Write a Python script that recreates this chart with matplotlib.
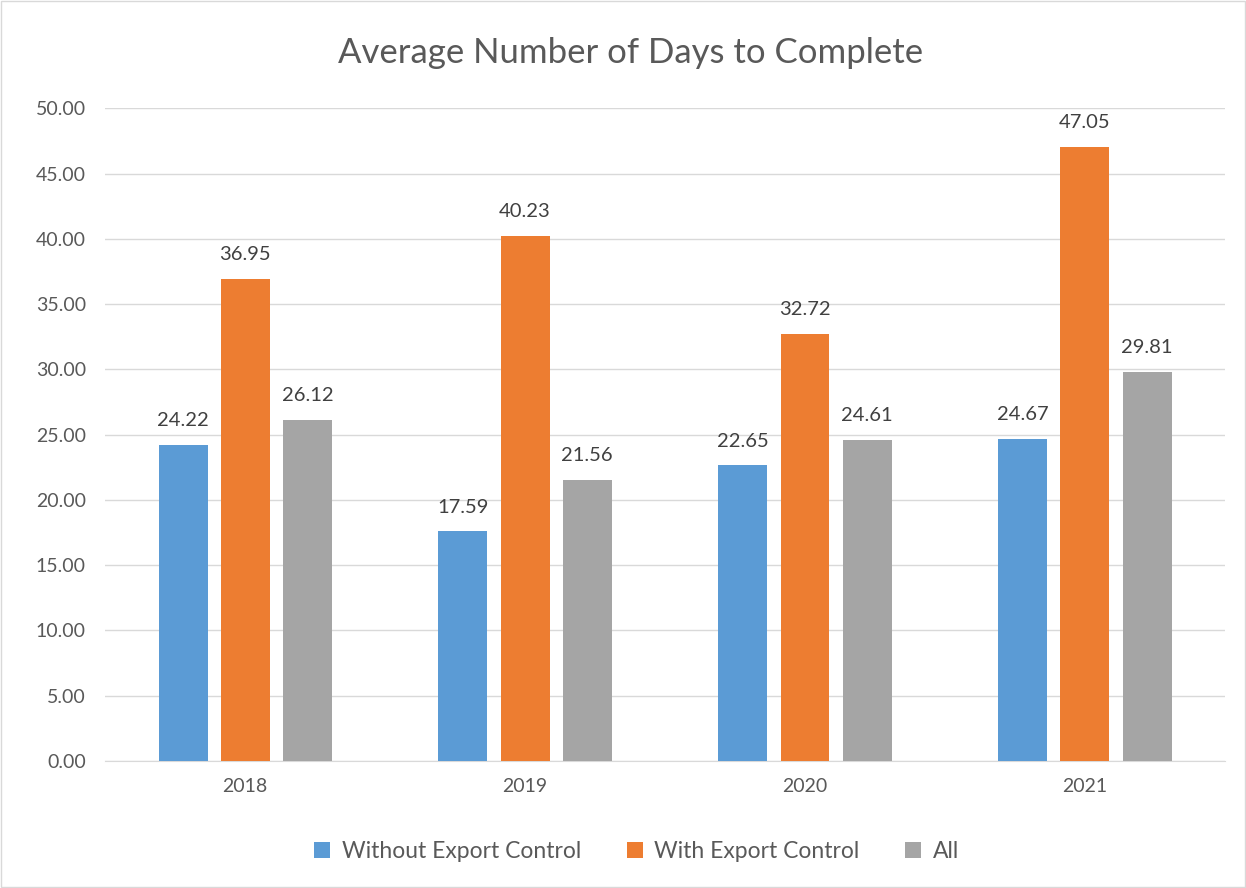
import numpy as np
import matplotlib.pyplot as plt
from matplotlib.patches import Rectangle

# datos del grafico
years = ["2018", "2019", "2020", "2021"]
without_ec = [24.22, 17.59, 22.65, 24.67]
with_ec = [36.95, 40.23, 32.72, 47.05]
all_vals = [26.12, 21.56, 24.61, 29.81]
series_names = ["Without Export Control", "With Export Control", "All"]
colors = ["#5b9bd5", "#ed7d31", "#a5a5a5"]

plt.rcParams['font.family'] = ['Lato', 'DejaVu Sans']
txt = "#595959"

fig = plt.figure(figsize=(12.46, 8.88), dpi=100)
ax = fig.add_axes([0.0845, 0.143, 0.8985, 0.735])

x = np.arange(len(years))
w = 0.175
step = 0.222
for i, (vals, name) in enumerate(zip([without_ec, with_ec, all_vals], series_names)):
    pos = x + (i - 1) * step
    bars = ax.bar(pos, vals, w, color=colors[i], label=name, zorder=3)
    for b, v in zip(bars, vals):
        ax.text(b.get_x() + b.get_width() / 2, v + 1.2, f"{v:.2f}",
                ha="center", va="bottom", fontsize=14.5, color="#404040")

ax.set_xlim(-0.5, 3.5)
ax.set_ylim(0, 50)
ax.set_yticks(np.arange(0, 51, 5))
ax.set_yticklabels([f"{t:.2f}" for t in np.arange(0, 51, 5)])
ax.set_xticks(x)
ax.set_xticklabels(years)
ax.tick_params(axis="both", length=0, labelsize=14, labelcolor=txt)
ax.tick_params(axis="x", pad=12)
ax.tick_params(axis="y", pad=14)
ax.grid(axis="y", color="#d9d9d9", linewidth=1, zorder=0)
for s in ["top", "right", "left"]:
    ax.spines[s].set_visible(False)
ax.spines["bottom"].set_color("#d9d9d9")

fig.text(0.506, 0.94, "Average Number of Days to Complete", ha="center", va="center",
         fontsize=25, color=txt)

fig.legend(loc="center", bbox_to_anchor=(0.511, 0.041), ncol=3, frameon=False,
           fontsize=16.5, labelcolor=txt, handlelength=0.7, handleheight=0.7,
           columnspacing=2.0, handletextpad=0.5)

fig.patches.append(Rectangle((0.001, 0.001), 0.998, 0.998, transform=fig.transFigure,
                             fill=False, edgecolor="#d9d9d9", linewidth=1))

plt.savefig("out.png")
